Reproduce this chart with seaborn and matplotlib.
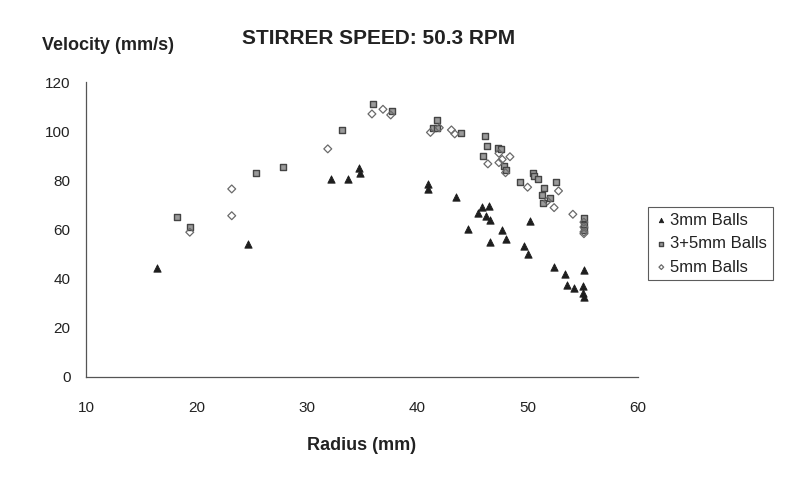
import matplotlib
matplotlib.use("Agg")
import matplotlib.pyplot as plt
import seaborn as sns
import pandas as pd

# 3mm Balls (triangles)
r_3mm = [16.4, 24.7, 32.2, 33.7, 34.7, 34.8, 41.0, 41.0, 43.5, 44.6, 45.5, 45.9,
         46.2, 46.5, 46.6, 46.6, 47.7, 48.0, 49.7, 50.0, 50.2, 52.4, 53.4, 53.6,
         54.2, 55.0, 55.1, 55.0, 55.1]
v_3mm = [44.2, 54.1, 80.4, 80.4, 85.2, 82.8, 78.4, 76.6, 73.4, 60.2, 66.9, 69.3,
         65.5, 69.6, 63.9, 55.0, 59.8, 56.3, 53.4, 49.9, 63.6, 44.9, 41.8, 37.4,
         36.3, 37.0, 43.5, 34.0, 32.7]

# 3+5mm Balls (squares)
r_35mm = [18.2, 19.4, 25.4, 27.8, 33.2, 36.0, 37.7, 41.8, 41.4, 41.8, 44.0, 46.1,
          46.3, 46.0, 47.3, 47.6, 47.9, 48.0, 49.3, 50.5, 50.6, 50.9, 52.6, 51.5,
          51.3, 52.0, 51.4, 55.1, 55.1, 55.1]
v_35mm = [65.1, 61.2, 82.9, 85.6, 100.4, 111.1, 108.1, 104.6, 101.4, 101.4, 99.1, 98.0,
          94.0, 89.9, 93.0, 92.8, 86.0, 84.2, 79.3, 83.1, 81.8, 80.6, 79.3, 77.0,
          73.9, 72.9, 70.7, 64.5, 62.0, 60.0]

# 5mm Balls (diamonds)
r_5mm = [19.4, 23.2, 23.2, 31.9, 35.9, 36.9, 37.6, 41.2, 42.0, 43.1, 43.4, 46.4,
         47.4, 48.4, 47.7, 47.4, 48.0, 50.0, 52.8, 51.8, 52.4, 54.1, 55.1, 55.1,
         55.1, 55.1]
v_5mm = [58.9, 76.5, 65.6, 92.8, 107.0, 108.9, 106.6, 99.5, 101.4, 100.5, 98.9, 86.7,
         91.0, 89.6, 88.5, 87.2, 83.1, 77.2, 75.7, 71.6, 68.9, 66.2, 63.0, 61.0,
         59.0, 58.3]

series_names = ["3mm Balls", "3+5mm Balls", "5mm Balls"]
x_ticks = [10, 20, 30, 40, 50, 60]
y_ticks = [0, 20, 40, 60, 80, 100, 120]

df = pd.concat([
    pd.DataFrame({"Radius": r_3mm, "Velocity": v_3mm, "Series": series_names[0]}),
    pd.DataFrame({"Radius": r_35mm, "Velocity": v_35mm, "Series": series_names[1]}),
    pd.DataFrame({"Radius": r_5mm, "Velocity": v_5mm, "Series": series_names[2]}),
], ignore_index=True)

sns.set_theme(style="white")
plt.rcParams['font.family'] = ['Liberation Sans', 'DejaVu Sans']

fig = plt.figure(figsize=(8.12, 4.82), dpi=100)
ax = fig.add_axes([86/812, 1-377/482, (638-86)/812, (377-82)/482])

styles = {
    "3mm Balls": dict(marker="^", s=28, facecolor="#1e1e1e", edgecolor="#1e1e1e", linewidth=0.6),
    "3+5mm Balls": dict(marker="s", s=20, facecolor="#9a9a9a", edgecolor="#444444", linewidth=1.0),
    "5mm Balls": dict(marker="D", s=16, facecolor="none", edgecolor="#6a6a6a", linewidth=0.9),
}
for name in series_names:
    sub = df[df["Series"] == name]
    st = styles[name]
    sns.scatterplot(data=sub, x="Radius", y="Velocity", ax=ax, label=name,
                    marker=st["marker"], s=st["s"],
                    facecolors=st["facecolor"], edgecolors=st["edgecolor"],
                    linewidths=st["linewidth"], zorder=3)

ax.set_xlim(10, 60)
ax.set_ylim(0, 120)
ax.set_xticks(x_ticks)
ax.set_yticks(y_ticks)
for side in ["top", "right"]:
    ax.spines[side].set_visible(False)
for side in ["left", "bottom"]:
    ax.spines[side].set_color("#555555")
    ax.spines[side].set_linewidth(0.9)
ax.tick_params(axis="both", direction="inout", length=6, width=0.8, color="#555555",
               labelsize=11, labelcolor="#222222")
ax.tick_params(axis="x", pad=14)
ax.tick_params(axis="y", pad=8)
ax.set_xlabel("")
ax.set_ylabel("")
ax.grid(False)

fig.text(362/812, 1-446/482, "Radius (mm)", ha="center", va="center",
         fontsize=13, fontweight="bold", color="#222222")
fig.text(42/812, 1-46/482, "Velocity (mm/s)", ha="left", va="center",
         fontsize=13, fontweight="bold", color="#222222")
fig.text(242/812, 1-38/482, "STIRRER SPEED: 50.3 RPM", ha="left", va="center",
         fontsize=15, fontweight="bold", color="#222222")

leg = ax.legend(loc="upper left", bbox_to_anchor=(648/812, 1-207/482),
                bbox_transform=fig.transFigure, frameon=True, fancybox=False,
                fontsize=12, handletextpad=0.1, borderpad=0.35, labelspacing=0.5,
                markerscale=0.6, handlelength=0.9, borderaxespad=0)
leg.get_frame().set_edgecolor("#333333")
leg.get_frame().set_linewidth(0.8)
for t in leg.get_texts():
    t.set_color("#222222")

fig.savefig("out.png", dpi=100, facecolor="white")
